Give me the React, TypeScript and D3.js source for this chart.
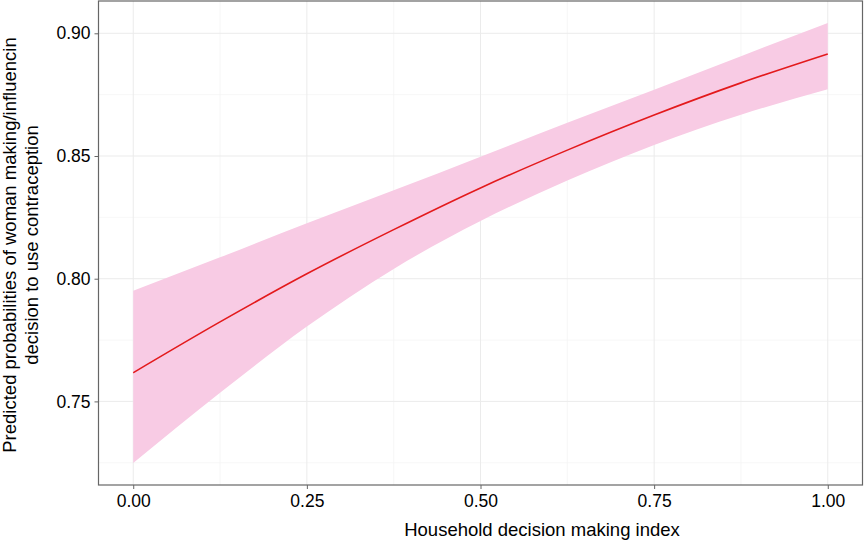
import { useEffect, useRef } from "react";
import * as d3 from "d3";

// household decision making index (x) and predicted probability with 95% band
const xs = [0, 0.125, 0.25, 0.375, 0.5, 0.625, 0.75, 0.875, 1];
const fit = [0.7617, 0.7824, 0.802, 0.82, 0.837, 0.8524, 0.8667, 0.8798, 0.8916];
const upper = [0.7951, 0.8087, 0.8226, 0.836, 0.8497, 0.8636, 0.877, 0.8907, 0.9042];
const lower = [0.7249, 0.7535, 0.7805, 0.804, 0.8235, 0.84, 0.8545, 0.8668, 0.8772];

const xTicks = [0, 0.25, 0.5, 0.75, 1];
const xMinor = [0.125, 0.375, 0.625, 0.875];
const yTicks = [0.75, 0.8, 0.85, 0.9];
const yMinor = [0.725, 0.775, 0.825, 0.875];

const W = 864, H = 543;
const FONT = "Liberation Sans, Arial, sans-serif";

const App = () => {
  const svgRef = useRef<SVGSVGElement>(null);

  useEffect(() => {
    if (!svgRef.current) return;
    const svg = d3.select(svgRef.current);
    svg.selectAll("*").remove();

    const m = { top: 1, right: 1.5, bottom: 58, left: 98.5 };
    const iw = W - m.left - m.right, ih = H - m.top - m.bottom;

    const yMin = d3.min(lower)!, yMax = d3.max(upper)!;
    const pad = (yMax - yMin) * 0.05;
    const x = d3.scaleLinear().domain([-0.05, 1.05]).range([m.left, m.left + iw]);
    const y = d3.scaleLinear().domain([yMin - pad, yMax + pad]).range([m.top + ih, m.top]);

    svg.append("rect")
      .attr("x", 0).attr("y", 0).attr("width", W).attr("height", H)
      .attr("fill", "#fff");

    const grid = svg.append("g");
    xMinor.forEach((v) => grid.append("line")
      .attr("x1", x(v)).attr("x2", x(v)).attr("y1", m.top).attr("y2", m.top + ih)
      .attr("stroke", "#f3f3f3").attr("stroke-width", 0.7));
    yMinor.forEach((v) => grid.append("line")
      .attr("x1", m.left).attr("x2", m.left + iw).attr("y1", y(v)).attr("y2", y(v))
      .attr("stroke", "#f3f3f3").attr("stroke-width", 0.7));
    xTicks.forEach((v) => grid.append("line")
      .attr("x1", x(v)).attr("x2", x(v)).attr("y1", m.top).attr("y2", m.top + ih)
      .attr("stroke", "#ebebeb").attr("stroke-width", 1));
    yTicks.forEach((v) => grid.append("line")
      .attr("x1", m.left).attr("x2", m.left + iw).attr("y1", y(v)).attr("y2", y(v))
      .attr("stroke", "#ebebeb").attr("stroke-width", 1));

    const area = d3.area<number>()
      .x((d) => x(d))
      .y0((_, i) => y(lower[i]))
      .y1((_, i) => y(upper[i]))
      .curve(d3.curveMonotoneX);

    const line = d3.line<number>()
      .x((d) => x(d))
      .y((_, i) => y(fit[i]))
      .curve(d3.curveMonotoneX);

    svg.append("path")
      .datum(xs)
      .attr("d", area)
      .attr("fill", "#f8cbe4");

    svg.append("path")
      .datum(xs)
      .attr("d", line)
      .attr("fill", "none")
      .attr("stroke", "#e31a1c")
      .attr("stroke-width", 1.6);

    svg.append("rect")
      .attr("x", m.left).attr("y", m.top).attr("width", iw).attr("height", ih)
      .attr("fill", "none").attr("stroke", "#666").attr("stroke-width", 1.2);

    const xAxis = svg.append("g").attr("transform", `translate(0,${m.top + ih})`)
      .call(d3.axisBottom(x).tickValues(xTicks).tickFormat(d3.format(".2f")).tickSize(4).tickPadding(6));
    const yAxis = svg.append("g").attr("transform", `translate(${m.left},0)`)
      .call(d3.axisLeft(y).tickValues(yTicks).tickFormat(d3.format(".2f")).tickSize(4).tickPadding(4));

    [xAxis, yAxis].forEach((g) => {
      g.select(".domain").remove();
      g.selectAll(".tick line").attr("stroke", "#666").attr("stroke-width", 1);
      g.selectAll(".tick text")
        .attr("fill", "#000")
        .style("font-family", FONT)
        .style("font-size", "17.5px");
    });

    svg.append("text")
      .attr("x", 542).attr("y", 536)
      .attr("text-anchor", "middle")
      .style("font-family", FONT).style("font-size", "18.5px")
      .attr("fill", "#000")
      .text("Household decision making index");

    const cy = m.top + ih / 2 + 2;
    const ytitle = svg.append("text")
      .attr("transform", `translate(16,${cy}) rotate(-90)`)
      .attr("text-anchor", "middle")
      .style("font-family", FONT).style("font-size", "18.5px")
      .attr("fill", "#000");
    ytitle.append("tspan").attr("x", 0).attr("dy", 0)
      .text("Predicted probabilities of woman making/influencin");
    ytitle.append("tspan").attr("x", 0).attr("dy", 21.5)
      .text("decision to use contraception");
  }, []);

  return (
    <svg
      ref={svgRef}
      width={W}
      height={H}
      style={{ position: "absolute", left: 0, top: 0, display: "block" }}
    />
  );
};

export default App;
